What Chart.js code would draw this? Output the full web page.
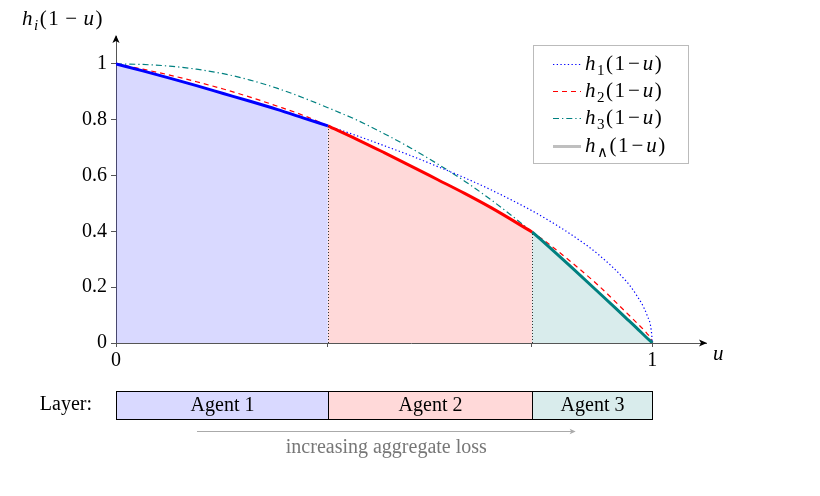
<!DOCTYPE html>
<html>
<head>
<meta charset="utf-8">
<script src="https://cdn.jsdelivr.net/npm/chart.js@4.4.1/dist/chart.umd.min.js"></script>
<style>
  html, body { margin: 0; padding: 0; background: #fff; }
  #wrap { width: 820px; height: 496px; }
</style>
</head>
<body>
<div id="wrap"><canvas id="myChart" width="820" height="496"></canvas></div>
<script>
// values, u on the x axis
var uGrid  = [0, 0.05, 0.1, 0.15, 0.2, 0.25, 0.3, 0.35, 0.395, 0.45, 0.5, 0.55, 0.6, 0.65, 0.7, 0.7755, 0.8, 0.85, 0.9, 0.95, 0.97, 0.99, 0.998, 1];
var h1Vals = [1, 0.975, 0.949, 0.922, 0.894, 0.866, 0.837, 0.806, 0.778, 0.742, 0.707, 0.671, 0.632, 0.592, 0.548, 0.474, 0.447, 0.387, 0.316, 0.224, 0.173, 0.100, 0.045, 0];
var h2Vals = [1, 0.981, 0.960, 0.936, 0.910, 0.881, 0.849, 0.815, 0.778, 0.729, 0.682, 0.634, 0.585, 0.536, 0.484, 0.398, 0.365, 0.288, 0.205, 0.112, 0.074, 0.034, 0.012, 0];
var h3Vals = [1, 0.998, 0.992, 0.981, 0.965, 0.942, 0.913, 0.878, 0.843, 0.798, 0.750, 0.698, 0.641, 0.580, 0.512, 0.398, 0.357, 0.270, 0.181, 0.091, 0.055, 0.018, 0.004, 0];

var layerBounds = [0, 0.395, 0.7755, 1];
var layerNames = ['Agent 1', 'Agent 2', 'Agent 3'];
var xTicks = [0, 0.395, 0.7755, 1];
var xTickLabels = ['0', '', '', '1'];
var yTicks = [0, 0.2, 0.4, 0.6, 0.8, 1];
var legendSubs = ['1', '2', '3', '\u2227'];

var SERIF = '"Liberation Serif", "Times New Roman", serif';
var curveColors = ['#0000ff', '#ff0000', '#008080'];
var fillColors = ['rgba(0,0,255,0.15)', 'rgba(255,0,0,0.15)', 'rgba(0,128,128,0.15)'];
var dashes = [[1.3, 2.4], [5, 4], [6, 3, 1.3, 3]];
var allVals = [h1Vals, h2Vals, h3Vals];

function pts(vals) {
    return uGrid.map(function (u, i) { return {x: u, y: vals[i]}; });
}
function segment(vals, a, b) {
    return pts(vals).filter(function (p) { return p.x >= a - 1e-9 && p.x <= b + 1e-9; });
}

var datasets = [];
for (var i = 0; i < 3; i++) {
    datasets.push({
        data: segment(allVals[i], layerBounds[i], layerBounds[i + 1]),
        borderColor: curveColors[i],
        backgroundColor: fillColors[i],
        fill: 'origin',
        borderWidth: 3,
        pointRadius: 0,
        cubicInterpolationMode: 'monotone',
        order: 0
    });
}
for (var j = 0; j < 3; j++) {
    datasets.push({
        data: pts(allVals[j]),
        borderColor: curveColors[j],
        borderDash: dashes[j],
        borderWidth: 1.2,
        borderCapStyle: 'butt',
        fill: false,
        pointRadius: 0,
        cubicInterpolationMode: 'monotone',
        order: 1
    });
}

// draws h_sub(1 − u); subItalic for letter subscripts, sp = extra space between glyphs
function mathLabel(ctx, x, y, sub, subItalic, size, gap, sp) {
    ctx.textAlign = 'left';
    ctx.textBaseline = 'alphabetic';
    var it = 'italic ' + size + 'px ' + SERIF;
    var rm = size + 'px ' + SERIF;
    var sm = (subItalic ? 'italic ' : '') + Math.round(size * 0.72) + 'px ' + SERIF;
    var parts = [['h', it, 0], [sub, sm, size * 0.24], ['(', rm, 0], ['1', rm, 0],
                 ['\u2212', rm, 0], ['u', it, 0], [')', rm, 0]];
    for (var p = 0; p < parts.length; p++) {
        var t = parts[p][0];
        ctx.font = parts[p][1];
        if (t === '\u2212') x += gap;
        ctx.fillText(t, x, y + parts[p][2]);
        x += ctx.measureText(t).width + sp;
        if (t === '\u2212') x += gap;
    }
}

function arrowHead(ctx, x, y, dir, size, color) {
    ctx.save();
    ctx.fillStyle = color;
    ctx.beginPath();
    if (dir === 'right') {
        ctx.moveTo(x, y);
        ctx.lineTo(x - size, y - size * 0.45);
        ctx.lineTo(x - size * 0.75, y);
        ctx.lineTo(x - size, y + size * 0.45);
    } else {
        ctx.moveTo(x, y);
        ctx.lineTo(x - size * 0.45, y + size);
        ctx.lineTo(x, y + size * 0.75);
        ctx.lineTo(x + size * 0.45, y + size);
    }
    ctx.closePath();
    ctx.fill();
    ctx.restore();
}

var extras = {
    id: 'extras',
    afterDatasetsDraw: function (chart) {
        var ctx = chart.ctx, xs = chart.scales.x, ys = chart.scales.y;
        // dotted separators between layers
        ctx.save();
        ctx.strokeStyle = '#333';
        ctx.lineWidth = 1;
        ctx.setLineDash([1, 2]);
        for (var k = 1; k < layerBounds.length - 1; k++) {
            var idx = uGrid.indexOf(layerBounds[k]);
            var px = Math.round(xs.getPixelForValue(layerBounds[k])) + 0.5;
            ctx.beginPath();
            ctx.moveTo(px, ys.getPixelForValue(0));
            ctx.lineTo(px, ys.getPixelForValue(allVals[k - 1][idx]));
            ctx.stroke();
        }
        ctx.restore();
    },
    afterDraw: function (chart) {
        var ctx = chart.ctx, xs = chart.scales.x, ys = chart.scales.y;
        var area = chart.chartArea;
        ctx.save();

        // axis arrows
        arrowHead(ctx, area.right + 1, ys.getPixelForValue(0), 'right', 8, '#000');
        arrowHead(ctx, xs.getPixelForValue(0), area.top - 1, 'up', 8, '#000');

        // axis titles
        ctx.fillStyle = '#000';
        mathLabel(ctx, 22, 25, 'i', true, 21, 5, 1.5);
        ctx.font = 'italic 21px ' + SERIF;
        ctx.textAlign = 'left';
        ctx.fillText('u', 713, 360);

        // legend
        var lx = 533, ly = 45, lw = 155, lh = 118;
        ctx.fillStyle = '#fff';
        ctx.fillRect(lx, ly, lw, lh);
        ctx.strokeStyle = '#bbb';
        ctx.lineWidth = 1;
        ctx.strokeRect(lx + 0.5, ly + 0.5, lw, lh);
        var rowY = [64, 91, 118, 146];
        for (var r = 0; r < 4; r++) {
            ctx.beginPath();
            if (r < 3) {
                ctx.strokeStyle = curveColors[r];
                ctx.lineWidth = 1.2;
                ctx.setLineDash(dashes[r]);
            } else {
                ctx.strokeStyle = '#bfbfbf';
                ctx.lineWidth = 3;
                ctx.setLineDash([]);
            }
            ctx.moveTo(553, rowY[r] + 0.5);
            ctx.lineTo(581, rowY[r] + 0.5);
            ctx.stroke();
            ctx.setLineDash([]);
            ctx.fillStyle = '#000';
            mathLabel(ctx, 585, rowY[r] + 6, legendSubs[r], false, 21, 1.5, 1.5);
        }

        // layer boxes under the axis
        var top = 391, bh = 28;
        ctx.font = '20px ' + SERIF;
        ctx.textAlign = 'right';
        ctx.textBaseline = 'middle';
        ctx.fillStyle = '#000';
        ctx.fillText('Layer:', 92, top + bh / 2);
        for (var b = 0; b < layerNames.length; b++) {
            var x0 = Math.round(xs.getPixelForValue(layerBounds[b])) + 0.5;
            var x1 = Math.round(xs.getPixelForValue(layerBounds[b + 1])) + 0.5;
            ctx.fillStyle = fillColors[b];
            ctx.fillRect(x0, top, x1 - x0, bh);
            ctx.strokeStyle = '#000';
            ctx.lineWidth = 1;
            ctx.strokeRect(x0, top + 0.5, x1 - x0, bh);
            ctx.fillStyle = '#000';
            ctx.textAlign = 'center';
            ctx.fillText(layerNames[b], (x0 + x1) / 2, top + bh / 2 + 1);
        }

        // increasing aggregate loss arrow
        var ax0 = xs.getPixelForValue(0.151), ax1 = xs.getPixelForValue(0.857);
        ctx.strokeStyle = '#aaa';
        ctx.lineWidth = 1.2;
        ctx.beginPath();
        ctx.moveTo(ax0, 431.5);
        ctx.lineTo(ax1 - 3, 431.5);
        ctx.stroke();
        arrowHead(ctx, ax1, 431.5, 'right', 6, '#aaa');
        ctx.fillStyle = '#777';
        ctx.textAlign = 'center';
        ctx.fillText('increasing aggregate loss', (ax0 + ax1) / 2, 448);

        ctx.restore();
    }
};

var ctx = document.getElementById('myChart').getContext('2d');
var chart = new Chart(ctx, {
    type: 'line',
    data: { datasets: datasets },
    options: {
        responsive: false,
        animation: false,
        devicePixelRatio: 1,
        layout: { padding: { left: 36, top: 36, right: 114, bottom: 123 } },
        plugins: { legend: { display: false }, tooltip: { enabled: false } },
        scales: {
            x: {
                type: 'linear',
                min: 0,
                max: 1.1,
                afterBuildTicks: function (s) { s.ticks = xTicks.map(function (v) { return {value: v}; }); },
                afterFit: function (s) { s.height = 30; },
                ticks: {
                    autoSkip: false,
                    maxRotation: 0,
                    padding: 2,
                    color: '#000',
                    font: { family: SERIF, size: 20 },
                    callback: function (v, i) { return xTickLabels[i]; }
                },
                grid: { drawOnChartArea: false, drawTicks: true, tickLength: 4, color: '#555' },
                border: { color: '#555' }
            },
            y: {
                type: 'linear',
                min: 0,
                max: 1.1,
                afterBuildTicks: function (s) { s.ticks = yTicks.map(function (v) { return {value: v}; }); },
                afterFit: function (s) { s.width = 80; },
                ticks: {
                    autoSkip: false,
                    padding: 4,
                    color: '#000',
                    font: { family: SERIF, size: 20 },
                    callback: function (v) { return String(v); }
                },
                grid: { drawOnChartArea: false, drawTicks: true, tickLength: 5, color: '#555' },
                border: { color: '#555' }
            }
        }
    },
    plugins: [extras]
});
</script>
</body>
</html>
